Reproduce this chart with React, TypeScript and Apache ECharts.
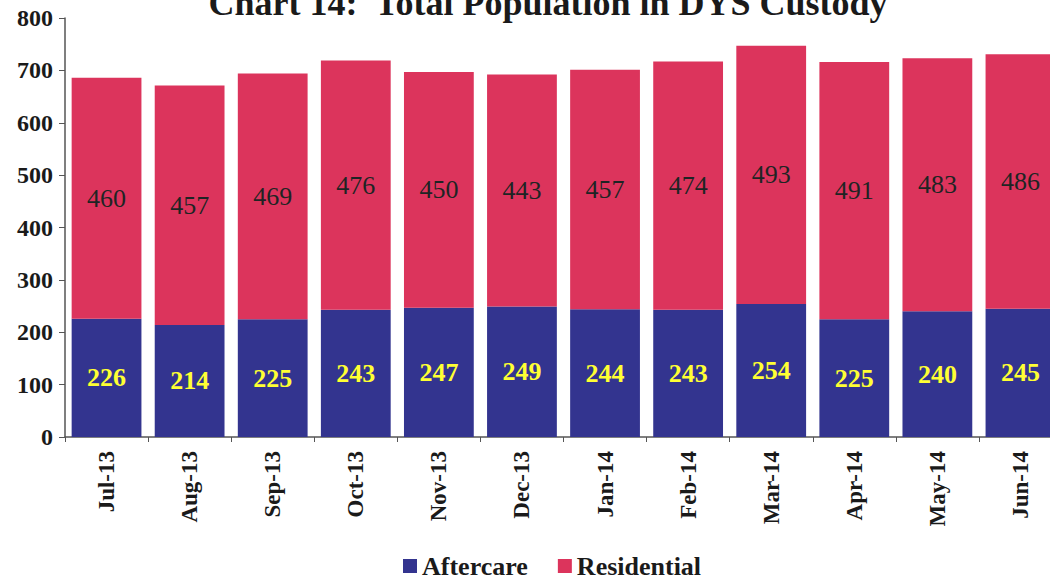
import React, { useEffect, useRef } from "react";
import * as echarts from "echarts";

const categories = ["Jul-13", "Aug-13", "Sep-13", "Oct-13", "Nov-13", "Dec-13", "Jan-14", "Feb-14", "Mar-14", "Apr-14", "May-14", "Jun-14"];
const aftercare = [226, 214, 225, 243, 247, 249, 244, 243, 254, 225, 240, 245];
const residential = [460, 457, 469, 476, 450, 443, 457, 474, 493, 491, 483, 486];

const SERIF = "Liberation Serif";

export default function App() {
  const ref = useRef<HTMLDivElement>(null);
  useEffect(() => {
    if (!ref.current) return;
    const chart = echarts.init(ref.current, null, { renderer: "svg" });
    chart.setOption({
      animation: false,
      backgroundColor: "#ffffff",
      textStyle: { fontFamily: SERIF },
      title: {
        text: "Chart 14:  Total Population in DYS Custody",
        left: 543,
        textAlign: "center",
        top: -20,
        textStyle: { fontFamily: SERIF, fontWeight: "bold", fontSize: 36, color: "#1a1a1a" },
      },
      legend: {
        bottom: -3,
        left: 398,
        itemWidth: 14,
        itemHeight: 14,
        itemGap: 30,
        icon: "rect",
        textStyle: { fontFamily: SERIF, fontWeight: "bold", fontSize: 26, color: "#1a1a1a", padding: [0, 0, 0, 0] },
        data: ["Aftercare", "Residential"],
      },
      grid: { left: 65, right: 0, top: 18, bottom: 144, containLabel: false },
      xAxis: {
        type: "category",
        data: categories,
        axisLine: { lineStyle: { color: "#555", width: 1.5 } },
        axisTick: { show: true, length: 5, lineStyle: { color: "#555" } },
        axisLabel: {
          rotate: 90,
          margin: 14,
          fontFamily: SERIF,
          fontWeight: "bold",
          fontSize: 23,
          color: "#1a1a1a",
        },
      },
      yAxis: {
        type: "value",
        min: 0,
        max: 800,
        interval: 100,
        splitLine: { show: false },
        axisLine: { show: true, lineStyle: { color: "#555", width: 1.5 } },
        axisTick: { show: true, length: 6, lineStyle: { color: "#555" } },
        axisLabel: {
          margin: 12,
          fontFamily: SERIF,
          fontWeight: "bold",
          fontSize: 24,
          color: "#1a1a1a",
        },
      },
      series: [
        {
          name: "Aftercare",
          type: "bar",
          stack: "total",
          data: aftercare,
          barCategoryGap: "16%",
          itemStyle: { color: "#33348f" },
          label: {
            show: true,
            position: "inside",
            fontFamily: SERIF,
            fontWeight: "bold",
            fontSize: 26,
            color: "#ffff33",
          },
        },
        {
          name: "Residential",
          type: "bar",
          stack: "total",
          data: residential,
          itemStyle: { color: "#dc345c" },
          label: {
            show: true,
            position: "inside",
            fontFamily: SERIF,
            fontSize: 26,
            color: "#1e2424",
          },
        },
      ],
    });
    return () => chart.dispose();
  }, []);
  return (
    <div
      ref={ref}
      style={{ position: "fixed", left: 0, top: 0, width: 1062, height: 581, background: "#fff" }}
    />
  );
}
